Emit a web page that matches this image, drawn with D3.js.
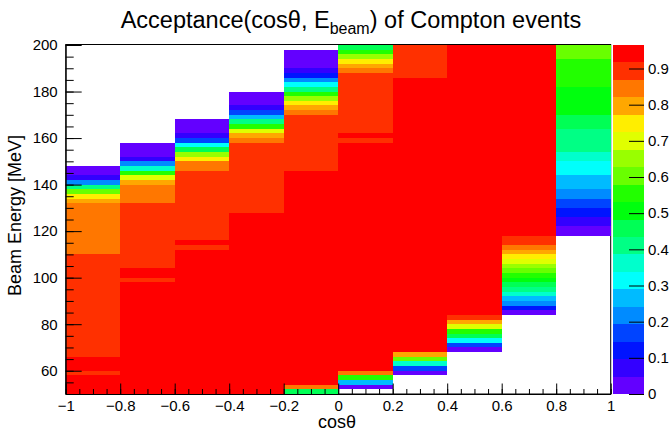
<!DOCTYPE html>
<html>
<head>
<meta charset="utf-8">
<script src="https://cdn.jsdelivr.net/npm/d3@7"></script>
<style>
	body { margin: 0; background: #fff; }
	svg { display: block; font-family: "Liberation Sans", Arial, sans-serif; }
	.axis text { fill: #000; }
	.axis line, .axis path { stroke: #000; }
</style>
</head>
<body>
<div id="chart"></div>
<script>
// x bins (cos theta) and tick labels
var cosEdges = [-1, -0.8, -0.6, -0.4, -0.2, 0, 0.2, 0.4, 0.6, 0.8, 1];
var xTicks = [-1, -0.8, -0.6, -0.4, -0.2, 0, 0.2, 0.4, 0.6, 0.8, 1];
var yTicks = [60, 80, 100, 120, 140, 160, 180, 200];
var zTicks = [0, 0.1, 0.2, 0.3, 0.4, 0.5, 0.6, 0.7, 0.8, 0.9];

// acceptance read per cos bin: [E low, E high, value], 2 MeV bins merged where equal
var bins1 = [[144,148,0.02],[142,144,0.07],[140,142,0.22],[138,140,0.41],[136,138,0.60],[134,136,0.75],[132,134,0.80],[110,132,0.84],[66,110,0.89],[60,66,0.94],[58,60,0.89],[50,58,0.94]];
var bins2 = [[152,158,0.02],[150,152,0.07],[148,150,0.22],[146,148,0.36],[144,146,0.55],[142,144,0.70],[140,142,0.80],[132,140,0.84],[104,132,0.89],[100,104,0.94],[98,100,0.89],[50,98,0.94]];
var bins3 = [[162,168,0.02],[160,162,0.07],[158,160,0.17],[156,158,0.31],[154,156,0.46],[152,154,0.65],[150,152,0.75],[146,150,0.84],[116,146,0.89],[114,116,0.94],[112,114,0.89],[50,112,0.94]];
var bins4 = [[174,180,0.02],[172,174,0.07],[170,172,0.17],[168,170,0.27],[166,168,0.41],[164,166,0.55],[162,164,0.70],[160,162,0.80],[158,160,0.84],[128,158,0.89],[50,128,0.94]];
var bins5 = [[190,198,0.02],[188,190,0.07],[186,188,0.12],[184,186,0.22],[182,184,0.31],[180,182,0.41],[178,180,0.55],[176,178,0.65],[174,176,0.75],[172,174,0.80],[170,172,0.84],[146,170,0.89],[54,146,0.94],[52,54,0.84],[50,52,0.46]];
var bins6 = [[198,200,0.46],[196,198,0.55],[194,196,0.65],[192,194,0.75],[190,192,0.80],[188,190,0.84],[162,188,0.89],[160,162,0.94],[158,160,0.89],[60,158,0.94],[58,60,0.84],[56,58,0.55],[54,56,0.27],[52,54,0.02]];
var bins7 = [[186,200,0.89],[68,186,0.94],[66,68,0.80],[64,66,0.60],[62,64,0.36],[60,62,0.17],[58,60,0.02]];
var bins8 = [[84,200,0.94],[82,84,0.89],[80,82,0.80],[78,80,0.70],[76,78,0.55],[74,76,0.46],[72,74,0.31],[70,72,0.17],[68,70,0.02]];
var bins9 = [[118,200,0.94],[114,118,0.89],[112,114,0.84],[110,112,0.80],[108,110,0.75],[106,108,0.70],[104,106,0.65],[102,104,0.60],[100,102,0.55],[98,100,0.51],[96,98,0.46],[94,96,0.41],[92,94,0.36],[90,92,0.27],[88,90,0.22],[86,88,0.12],[84,86,0.02]];
var bins10 = [[194,200,0.60],[182,194,0.55],[170,182,0.51],[164,170,0.46],[154,164,0.41],[150,154,0.36],[144,150,0.31],[138,144,0.27],[134,138,0.22],[130,134,0.17],[126,130,0.12],[122,126,0.07],[118,122,0.02]];

var zMax = 0.965,
	nContours = 20;

(function() {
	var W = 670, H = 435;
	var frame = { left: 65.7, right: 610.7, top: 45, bottom: 394 };
	var pal = { left: 613, right: 644 };

	var columns = [bins1, bins2, bins3, bins4, bins5, bins6, bins7, bins8, bins9, bins10];

	// ROOT "pretty" palette: 50 hues from violet to red, 20 contours pick from it
	var colors = d3.range(nContours).map(function(k) {
		var idx = Math.floor((k + 0.99) * 50 / nContours);
		var hue = 280 - (idx + 1) * 5.6;
		return d3.hsl(hue, 1, 0.5).formatHex();
	});

	var x = d3.scaleLinear().domain([-1, 1]).range([frame.left, frame.right]);
	var y = d3.scaleLinear().domain([50, 200]).range([frame.bottom, frame.top]);
	var z = d3.scaleQuantize().domain([0, zMax]).range(colors);
	var zy = d3.scaleLinear().domain([0, zMax]).range([frame.bottom, frame.top]);

	var svg = d3.select("#chart").append("svg")
		.attr("width", W)
		.attr("height", H);

	// frame box, bins are drawn over it
	svg.append("rect")
		.attr("x", frame.left)
		.attr("y", frame.top - 0.5)
		.attr("width", frame.right - frame.left)
		.attr("height", frame.bottom - frame.top + 0.5)
		.attr("fill", "none")
		.attr("stroke", "#000")
		.attr("stroke-width", 1);

	// cells
	var data_layer = svg.append("g").attr("shape-rendering", "crispEdges");
	columns.forEach(function(col, i) {
		data_layer.selectAll(null)
			.data(col)
			.enter().append("rect")
			.attr("x", x(cosEdges[i]))
			.attr("width", x(cosEdges[i + 1]) - x(cosEdges[i]))
			.attr("y", function(d) { return y(d[1]); })
			.attr("height", function(d) { return y(d[0]) - y(d[1]); })
			.attr("fill", function(d) { return z(d[2]); });
	});

	// AXES
	var fmt = d3.format("~g");

	// y minor ticks every 5 MeV
	svg.append("g")
		.attr("class", "axis")
		.attr("transform", "translate(" + frame.left + ",0)")
		.call(d3.axisLeft(y).tickValues(d3.range(50, 201, 5)).tickSize(-8).tickSizeOuter(0).tickFormat(""))
		.call(function(g) { g.select(".domain").remove(); });

	svg.append("g")
		.attr("class", "axis")
		.attr("transform", "translate(" + frame.left + ",0)")
		.call(d3.axisLeft(y).tickValues(yTicks).tickSize(-16).tickSizeOuter(0).tickPadding(8).tickFormat(fmt))
		.call(function(g) {
			g.selectAll("text").attr("font-size", 15).attr("font-family", null);
		});

	// x minor ticks every 0.05
	svg.append("g")
		.attr("class", "axis")
		.attr("transform", "translate(0," + frame.bottom + ")")
		.call(d3.axisBottom(x).tickValues(d3.range(-20, 21).map(function(i) { return i * 0.05; })).tickSize(-5).tickSizeOuter(0).tickFormat(""))
		.call(function(g) { g.select(".domain").remove(); });

	svg.append("g")
		.attr("class", "axis")
		.attr("transform", "translate(0," + frame.bottom + ")")
		.call(d3.axisBottom(x).tickValues(xTicks).tickSize(-10.5).tickSizeOuter(0).tickPadding(6).tickFormat(fmt))
		.call(function(g) {
			g.selectAll("text").attr("font-size", 15).attr("font-family", null);
		});

	// PALETTE
	svg.append("g")
		.attr("shape-rendering", "crispEdges")
		.selectAll("rect")
		.data(colors)
		.enter().append("rect")
		.attr("x", pal.left)
		.attr("width", pal.right - pal.left)
		.attr("y", function(c, k) { return zy((k + 1) * zMax / nContours); })
		.attr("height", function(c, k) { return zy(k * zMax / nContours) - zy((k + 1) * zMax / nContours); })
		.attr("fill", function(c) { return c; });

	svg.append("g")
		.attr("class", "axis")
		.attr("transform", "translate(" + pal.right + ",0)")
		.call(d3.axisRight(zy).tickValues(zTicks).tickSize(-15).tickSizeOuter(0).tickPadding(4).tickFormat(fmt))
		.call(function(g) {
			g.select(".domain").remove();
			g.selectAll("text").attr("font-size", 15).attr("font-family", null);
		});

	// TITLES
	var title = svg.append("text")
		.attr("x", 351)
		.attr("y", 28)
		.attr("text-anchor", "middle")
		.attr("font-size", 23.5);
	title.append("tspan").text("Acceptance(cos\u03b8, E");
	title.append("tspan").attr("font-size", 16).attr("dy", 6).text("beam");
	title.append("tspan").attr("dy", -6).text(") of Compton events");

	svg.append("text")
		.attr("transform", "translate(21," + ((frame.top + frame.bottom) / 2 - 4) + ")rotate(-90)")
		.attr("text-anchor", "middle")
		.attr("font-size", 18)
		.text("Beam Energy [MeV]");

	svg.append("text")
		.attr("x", 337)
		.attr("y", 428)
		.attr("text-anchor", "middle")
		.attr("font-size", 18)
		.text("cos\u03b8");
}());
</script>
</body>
</html>
